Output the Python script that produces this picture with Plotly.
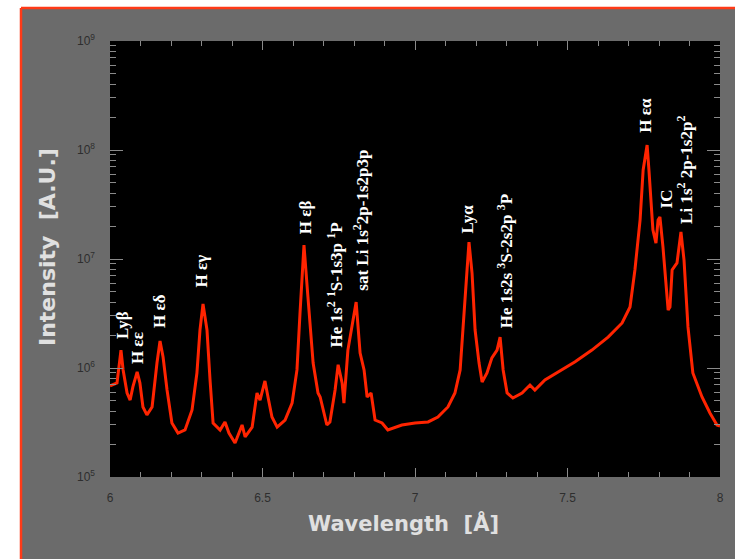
import numpy as np
import plotly.graph_objects as go

# Measured X-ray emission spectrum: wavelength (Å) and intensity (arbitrary units)
wavelength = [
    6.000, 6.023, 6.036, 6.043, 6.056, 6.066, 6.075, 6.089, 6.098, 6.108,
    6.121, 6.138, 6.154, 6.164, 6.174, 6.187, 6.203, 6.223, 6.246, 6.269,
    6.285, 6.295, 6.305, 6.318, 6.328, 6.338, 6.361, 6.377, 6.390, 6.410,
    6.433, 6.443, 6.466, 6.482, 6.492, 6.508, 6.518, 6.531, 6.548, 6.574,
    6.597, 6.613, 6.623, 6.636, 6.649, 6.666, 6.682, 6.689, 6.711, 6.721,
    6.738, 6.748, 6.761, 6.767, 6.780, 6.807, 6.820, 6.833, 6.843, 6.856,
    6.869, 6.892, 6.911, 6.957, 7.000, 7.043, 7.075, 7.108, 7.131, 7.148,
    7.157, 7.170, 7.177, 7.187, 7.197, 7.210, 7.220, 7.236, 7.252, 7.269,
    7.279, 7.289, 7.302, 7.321, 7.351, 7.377, 7.393, 7.426, 7.469, 7.525,
    7.580, 7.633, 7.679, 7.705, 7.721, 7.738, 7.748, 7.761, 7.767, 7.780,
    7.790, 7.797, 7.803, 7.813, 7.830, 7.836, 7.843, 7.859, 7.872, 7.882,
    7.895, 7.911, 7.941, 7.967, 7.990, 8.000,
]
intensity = [
    6.84e5, 7.29e5, 1.46e6, 9.6e5, 5.9e5, 5.08e5, 6.7e5, 9.2e5, 7.3e5, 4.39e5,
    3.71e5, 4.39e5, 1.11e6, 1.77e6, 1.26e6, 6.28e5, 3.13e5, 2.53e5, 2.70e5, 4.12e5,
    9.0e5, 2.23e6, 3.87e6, 2.23e6, 7.76e5, 3.13e5, 2.70e5, 3.2e5, 2.53e5, 2.05e5,
    3.0e5, 2.33e5, 2.87e5, 5.9e5, 5.08e5, 7.6e5, 5.42e5, 3.55e5, 2.87e5, 3.33e5,
    4.77e5, 9.6e5, 3.2e6, 1.34e7, 4.48e6, 1.11e6, 5.9e5, 5.42e5, 3.0e5, 3.2e5,
    6.28e5, 1.07e6, 7.3e5, 4.77e5, 1.46e6, 4.03e6, 1.37e6, 9.6e5, 5.42e5, 5.9e5,
    3.33e5, 3.13e5, 2.70e5, 3.0e5, 3.13e5, 3.2e5, 3.55e5, 4.39e5, 5.9e5, 9.6e5,
    2.23e6, 7.93e6, 1.43e7, 7.44e6, 2.23e6, 1.11e6, 7.44e5, 9.0e5, 1.24e6, 1.46e6,
    1.92e6, 9.6e5, 5.9e5, 5.3e5, 5.9e5, 6.98e5, 6.28e5, 7.76e5, 9.2e5, 1.14e6,
    1.46e6, 1.92e6, 2.59e6, 3.63e6, 7.93e6, 2.28e7, 6.56e7, 1.11e8, 6.56e7, 1.85e7,
    1.40e7, 2.28e7, 2.43e7, 1.29e7, 3.40e6, 3.63e6, 7.93e6, 9.2e6, 1.77e7, 9.8e6,
    2.38e6, 9.0e5, 5.42e5, 3.87e5, 3.0e5, 2.94e5,
]

# Line identifications and the wavelength of the peak each one marks
line_labels = [
    "Lyβ", "H εε", "H εδ", "H εγ", "H εβ",
    "He 1s<sup>2</sup> <sup>1</sup>S-1s3p <sup>1</sup>P",
    "sat Li 1s<sup>2</sup>2p-1s2p3p",
    "Lyα",
    "He 1s2s <sup>3</sup>S-2s2p <sup>3</sup>P",
    "H εα", "IC",
    "Li 1s<sup>2</sup> 2p-1s2p<sup>2</sup>",
]
line_wavelength = [6.036, 6.089, 6.164, 6.305, 6.636, 6.748, 6.807, 7.177, 7.279, 7.761, 7.803, 7.872]

# Pixel nudges for the rotated labels (gap above the peak, sideways offset)
label_gap = [12, 9, 14, 17, 12, 18, 12, 10, 10, 13, 10, 9]
label_dx = [1, 1, 0, -2, 1, -3, 4, -1, 5, -2, 7, 4]

x_ticks = [6, 6.5, 7, 7.5, 8]
x_tick_text = ["6", "6.5", "7", "7.5", "8"]
y_ticks = [1e5, 1e6, 1e7, 1e8, 1e9]
y_tick_text = ["10<sup>5</sup>", "10<sup>6</sup>", "10<sup>7</sup>", "10<sup>8</sup>", "10<sup>9</sup>"]

W, H = 735, 559
ML, MR, MT, MB = 110, 15, 41, 82
PW, PH = W - ML - MR, H - MT - MB

def px(xp):
    return (xp - ML) / PW

def py(yp):
    return (H - MB - yp) / PH

panel = "#6b6b6b"
border = "#ff3a17"

fig = go.Figure()
fig.add_trace(go.Scatter(
    x=wavelength, y=intensity, mode="lines",
    line=dict(color="#ff2400", width=3, shape="linear"),
    hoverinfo="skip", showlegend=False,
))

wl = np.array(wavelength)
it = np.array(intensity)
annotations = []
for text, lw, gap, dx in zip(line_labels, line_wavelength, label_gap, label_dx):
    near = np.abs(wl - lw) < 0.006
    peak = it[near].max()
    annotations.append(dict(
        x=lw, y=np.log10(peak), xref="x", yref="y", text=text,
        textangle=-90, showarrow=False, xanchor="center", yanchor="bottom",
        xshift=dx, yshift=gap - 2, borderpad=0,
        font=dict(family="Liberation Serif", size=17, color="white", weight="bold"),
    ))

annotations.append(dict(
    x=px(403), y=py(523), xref="paper", yref="paper", text="Wavelength\u00a0\u00a0[Å]",
    showarrow=False, xanchor="center", yanchor="middle",
    font=dict(family="DejaVu Sans", size=21, color="#e0e0e0", weight="bold"),
))
annotations.append(dict(
    x=px(47), y=py(247), xref="paper", yref="paper", text="Intensity\u00a0\u00a0[A.U.]",
    showarrow=False, xanchor="center", yanchor="middle", textangle=-90,
    font=dict(family="DejaVu Sans", size=22, color="#e0e0e0", weight="bold"),
))

shapes = [
    # white margin strips and the red frame edges
    dict(type="rect", xref="paper", yref="paper", x0=px(-10), x1=px(W + 10),
         y0=py(8), y1=py(-10), fillcolor="white", line=dict(width=0), layer="below"),
    dict(type="rect", xref="paper", yref="paper", x0=px(-10), x1=px(21),
         y0=py(H + 10), y1=py(-10), fillcolor="white", line=dict(width=0), layer="below"),
    dict(type="line", xref="paper", yref="paper", x0=px(21), x1=px(W + 5),
         y0=py(8), y1=py(8), line=dict(color=border, width=2.5)),
    dict(type="line", xref="paper", yref="paper", x0=px(21), x1=px(21),
         y0=py(8), y1=py(H + 5), line=dict(color=border, width=2.5)),
]

tick_font = dict(family="Liberation Sans", size=12, color="#2e2e2e")

fig.update_layout(
    width=W, height=H,
    margin=dict(l=ML, r=MR, t=MT, b=MB, pad=0),
    paper_bgcolor=panel, plot_bgcolor="black",
    showlegend=False,
    annotations=annotations, shapes=shapes,
    xaxis=dict(
        range=[6, 8], tickvals=x_ticks, ticktext=x_tick_text,
        ticks="inside", ticklen=9, tickwidth=1, tickcolor="#8a8a8a",
        minor=dict(dtick=0.1, ticks="inside", ticklen=5, tickcolor="#8a8a8a", showgrid=False),
        mirror="ticks", showline=False, showgrid=False, zeroline=False,
        tickfont=tick_font, ticklabelstandoff=12,
    ),
    yaxis=dict(
        type="log", range=[5, 9], tickvals=y_ticks, ticktext=y_tick_text,
        ticks="inside", ticklen=13, tickwidth=1, tickcolor="#8a8a8a",
        minor=dict(dtick="D1", ticks="inside", ticklen=6, tickcolor="#8a8a8a", showgrid=False),
        mirror="ticks", showline=False, showgrid=False, zeroline=False,
        tickfont=tick_font, ticklabelstandoff=14,
    ),
)

fig.write_html("out.html")
